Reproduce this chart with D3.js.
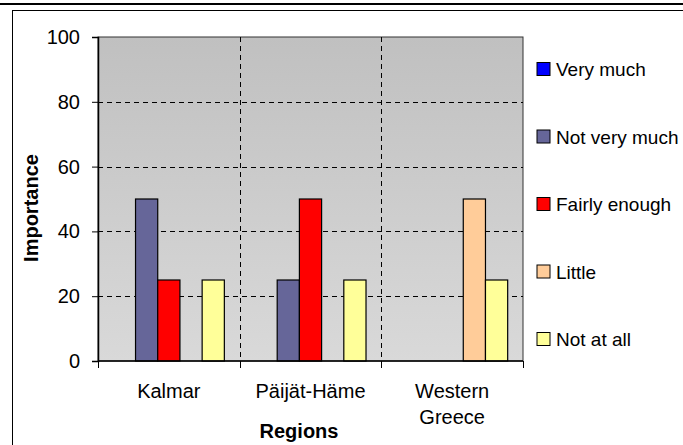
<!DOCTYPE html>
<html>
<head>
<meta charset="utf-8">
<script src="https://cdn.jsdelivr.net/npm/d3@7"></script>
<style>
  html, body { margin: 0; padding: 0; background: #fff; }
  svg { display: block; font-family: "Liberation Sans", Arial, sans-serif; }
</style>
</head>
<body>
<svg id="chart" width="683" height="445"></svg>
<script>
// Regions compared in the survey
const regions = ["Kalmar", "Päijät-Häme", "Western Greece"];
// Answer categories (one bar series each)
const answers = ["Very much", "Not very much", "Fairly enough", "Little", "Not at all"];
const answerColors = ["#0000ff", "#666699", "#ff0000", "#ffcc99", "#ffff99"];
// Importance (%) per answer, one array per region
const kalmarValues = [0, 50, 25, 0, 25];
const paijatHameValues = [0, 25, 50, 0, 25];
const westernGreeceValues = [0, 0, 0, 50, 25];
const regionValues = [kalmarValues, paijatHameValues, westernGreeceValues];
const yTicks = [0, 20, 40, 60, 80, 100];

const svg = d3.select("#chart");
const plot = { left: 98, top: 37, right: 523, bottom: 361 };

// Frame lines around the chart
svg.append("rect").attr("x", 0).attr("y", 3).attr("width", 683).attr("height", 2).attr("fill", "#000");
svg.append("line").attr("x1", 12).attr("x2", 683).attr("y1", 10.5).attr("y2", 10.5)
  .attr("stroke", "#000").attr("stroke-width", 1);
svg.append("line").attr("x1", 12.5).attr("x2", 12.5).attr("y1", 10).attr("y2", 445)
  .attr("stroke", "#000").attr("stroke-width", 1);

const x0 = d3.scaleBand().domain(regions).range([plot.left, plot.right]).padding(0);
const x1 = d3.scaleBand().domain(answers).range([0, x0.bandwidth()]).paddingInner(0).paddingOuter(0.69);
const y = d3.scaleLinear().domain([0, 100]).range([plot.bottom, plot.top]);

// Plot area gradient background
const defs = svg.append("defs");
const grad = defs.append("linearGradient").attr("id", "plotBg")
  .attr("x1", 0).attr("y1", 0).attr("x2", 0).attr("y2", 1);
grad.append("stop").attr("offset", "0%").attr("stop-color", "#c0c0c0");
grad.append("stop").attr("offset", "100%").attr("stop-color", "#d9d9d9");

svg.append("rect")
  .attr("x", plot.left).attr("y", plot.top)
  .attr("width", plot.right - plot.left).attr("height", plot.bottom - plot.top)
  .attr("fill", "url(#plotBg)").attr("stroke", "#333").attr("stroke-width", 1);

// Horizontal dashed gridlines
svg.append("g").selectAll("line")
  .data(yTicks.filter(t => t > 0 && t < 100))
  .join("line")
  .attr("x1", plot.left).attr("x2", plot.right)
  .attr("y1", d => Math.round(y(d)) + 0.5).attr("y2", d => Math.round(y(d)) + 0.5)
  .attr("stroke", "#000").attr("stroke-dasharray", "5,4");

// Vertical dashed separators between regions
svg.append("g").selectAll("line")
  .data(regions.slice(1))
  .join("line")
  .attr("x1", d => Math.round(x0(d)) + 0.5).attr("x2", d => Math.round(x0(d)) + 0.5)
  .attr("y1", plot.top).attr("y2", plot.bottom)
  .attr("stroke", "#000").attr("stroke-dasharray", "5,4");

// Bars
const groups = svg.append("g").selectAll("g")
  .data(regions)
  .join("g")
  .attr("transform", d => `translate(${x0(d)},0)`);

groups.selectAll("rect")
  .data((d, i) => answers.map((a, j) => ({ answer: a, value: regionValues[i][j], color: answerColors[j] })))
  .join("rect")
  .filter(d => d.value > 0)
  .attr("x", d => x1(d.answer))
  .attr("y", d => y(d.value))
  .attr("width", x1.bandwidth())
  .attr("height", d => y(0) - y(d.value))
  .attr("fill", d => d.color)
  .attr("stroke", "#000")
  .attr("stroke-width", 1.2);

// Y axis
const yAxis = svg.append("g")
  .attr("transform", `translate(${plot.left},0)`)
  .call(d3.axisLeft(y).tickValues(yTicks).tickSize(6).tickPadding(12).tickFormat(d3.format("d")));
yAxis.select(".domain").attr("stroke", "#000").attr("stroke-width", 1.5);
yAxis.selectAll(".tick line").attr("stroke", "#000");
yAxis.selectAll(".tick text")
  .attr("font-size", 20).attr("font-family", "Liberation Sans, Arial, sans-serif").attr("fill", "#000");

// X axis line with ticks at region boundaries
const boundaries = regions.map(r => x0(r)).concat([plot.right]);
svg.append("line").attr("x1", plot.left).attr("x2", plot.right)
  .attr("y1", plot.bottom).attr("y2", plot.bottom).attr("stroke", "#000").attr("stroke-width", 1.5);
svg.append("g").selectAll("line")
  .data(boundaries)
  .join("line")
  .attr("x1", d => Math.round(d) + 0.5).attr("x2", d => Math.round(d) + 0.5)
  .attr("y1", plot.bottom).attr("y2", plot.bottom + 7)
  .attr("stroke", "#000");

// Region labels (wrapped where needed)
const regionLines = { "Western Greece": ["Western", "Greece"] };
svg.append("g").selectAll("text")
  .data(regions)
  .join("text")
  .attr("x", d => x0(d) + x0.bandwidth() / 2)
  .attr("y", 398)
  .attr("text-anchor", "middle")
  .attr("font-size", 20)
  .attr("fill", "#000")
  .each(function (d) {
    const lines = regionLines[d] || [d];
    d3.select(this).selectAll("tspan")
      .data(lines)
      .join("tspan")
      .attr("x", x0(d) + x0.bandwidth() / 2)
      .attr("dy", (l, i) => i === 0 ? 0 : 26)
      .text(l => l);
  });

// Axis titles
svg.append("text")
  .attr("x", 299).attr("y", 438)
  .attr("text-anchor", "middle")
  .attr("font-size", 20).attr("font-weight", "bold")
  .text("Regions");

svg.append("text")
  .attr("transform", "translate(38,208) rotate(-90)")
  .attr("text-anchor", "middle")
  .attr("font-size", 20).attr("font-weight", "bold")
  .text("Importance");

// Legend
const legendY = d3.scalePoint().domain(answers).range([69, 339]);
const legend = svg.append("g").selectAll("g")
  .data(answers)
  .join("g")
  .attr("transform", d => `translate(537,${legendY(d)})`);
legend.append("rect")
  .attr("x", 0).attr("y", -6.5).attr("width", 13).attr("height", 13)
  .attr("fill", (d, i) => answerColors[i]).attr("stroke", "#000").attr("stroke-width", 1);
legend.append("text")
  .attr("x", 19).attr("y", 7)
  .attr("font-size", 19).attr("fill", "#000")
  .text(d => d);
</script>
</body>
</html>
